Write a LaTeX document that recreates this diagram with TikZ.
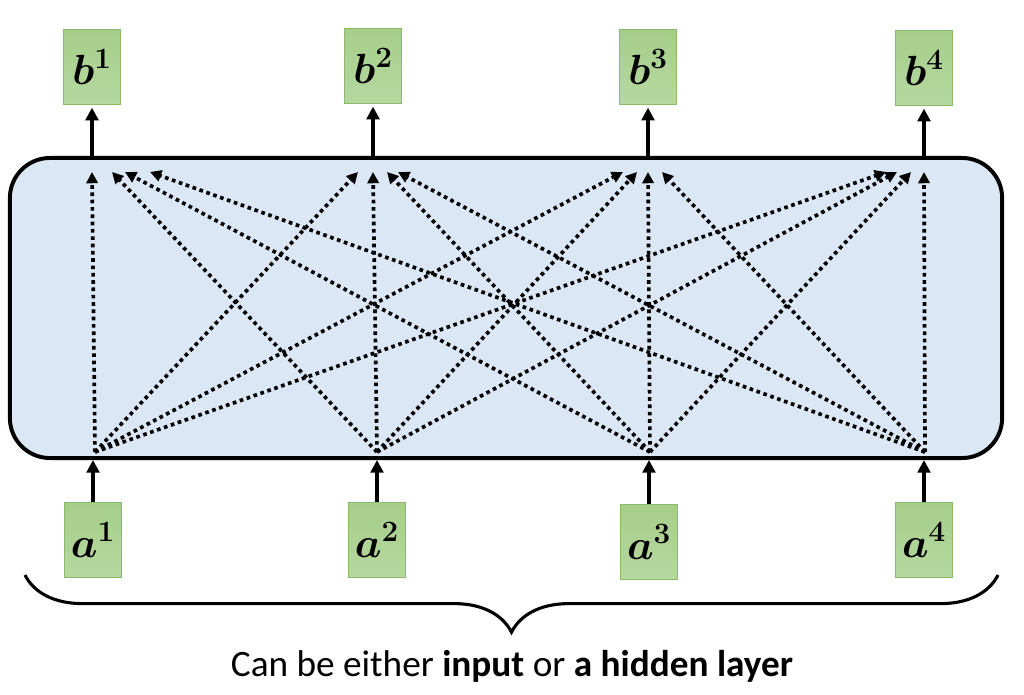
\documentclass[tikz,border=0pt]{standalone}
\usepackage{fix-cm}
\usepackage{fontspec}
\setmainfont{Carlito}
\usepackage{bm}
\usetikzlibrary{arrows.meta,decorations.pathreplacing}

\definecolor{cellTop}{RGB}{166,206,138}
\definecolor{cellBot}{RGB}{182,216,160}
\definecolor{cellLine}{RGB}{140,186,108}
\definecolor{layerFill}{RGB}{220,231,245}

\begin{document}
\begin{tikzpicture}[x=0.025cm,y=-0.025cm,
	cell/.style={draw=cellLine,line width=0.6pt,top color=cellTop,bottom color=cellBot,
		minimum width=1.43cm,minimum height=1.87cm,inner sep=0pt,font=\fontsize{30}{33}\selectfont},
	layer/.style={draw,line width=2.8pt,fill=layerFill,rounded corners=1cm,
		minimum width=24.8cm,minimum height=7.5cm},
	feed/.style={line width=2.7pt,-{Triangle[length=9pt,width=9pt]}},
	link/.style={line width=2.6pt,dash pattern=on 2.6pt off 2.6pt,-{Triangle[length=8pt,width=8pt]}}]
	\useasboundingbox (0,0) rectangle (1024,695);
	\node[layer] (layer) at (506,308) {};
	\node[cell] (b1) at (92,67) {$\bm{b}^{\bm{1}}$};
	\node[cell] (b2) at (373,66) {$\bm{b}^{\bm{2}}$};
	\node[cell] (b3) at (648,67) {$\bm{b}^{\bm{3}}$};
	\node[cell] (b4) at (924,68) {$\bm{b}^{\bm{4}}$};
	\node[cell] (a1) at (93,540) {$\bm{a}^{\bm{1}}$};
	\node[cell] (a2) at (377,540) {$\bm{a}^{\bm{2}}$};
	\node[cell] (a3) at (649,542) {$\bm{a}^{\bm{3}}$};
	\node[cell] (a4) at (924,540) {$\bm{a}^{\bm{4}}$};
	% where the dotted links start and end
	\coordinate (s1) at (95,452);
	\coordinate (s2) at (377,452);
	\coordinate (s3) at (650,452);
	\coordinate (s4) at (925,452);
	\coordinate (t1) at (92,172);
	\coordinate (t2) at (373,172);
	\coordinate (t3) at (648,172);
	\coordinate (t4) at (924,172);
	\foreach \i in {1,...,4} {
		\draw[feed] (a\i) -- (a\i |- layer.south);
		\draw[feed,shorten >=2pt] (b\i |- layer.north) -- (b\i);
		\draw[link] (s\i) -- (t\i);
	}
	\foreach \j/\i/\d in {2/1/20,3/1/33,4/1/58,1/2/-15,3/2/14,4/2/25,
		1/3/-25,2/3/-11,4/3/14,1/4/-38,2/4/-27,3/4/-13}
		\draw[link] (s\j) -- ([xshift=\d*0.25mm]t\i);
	% brace and caption
	\coordinate (braceL) at (25,575);
	\coordinate (braceR) at (998,575);
	\draw[line width=2.2pt,decorate,decoration={brace,mirror,amplitude=1.43cm}] (braceL) -- (braceR);
	\node[font=\fontsize{26.5}{30}\selectfont] (caption) at (512,666) {Can be either \textbf{input} or \textbf{a hidden layer}};
\end{tikzpicture}
\end{document}
